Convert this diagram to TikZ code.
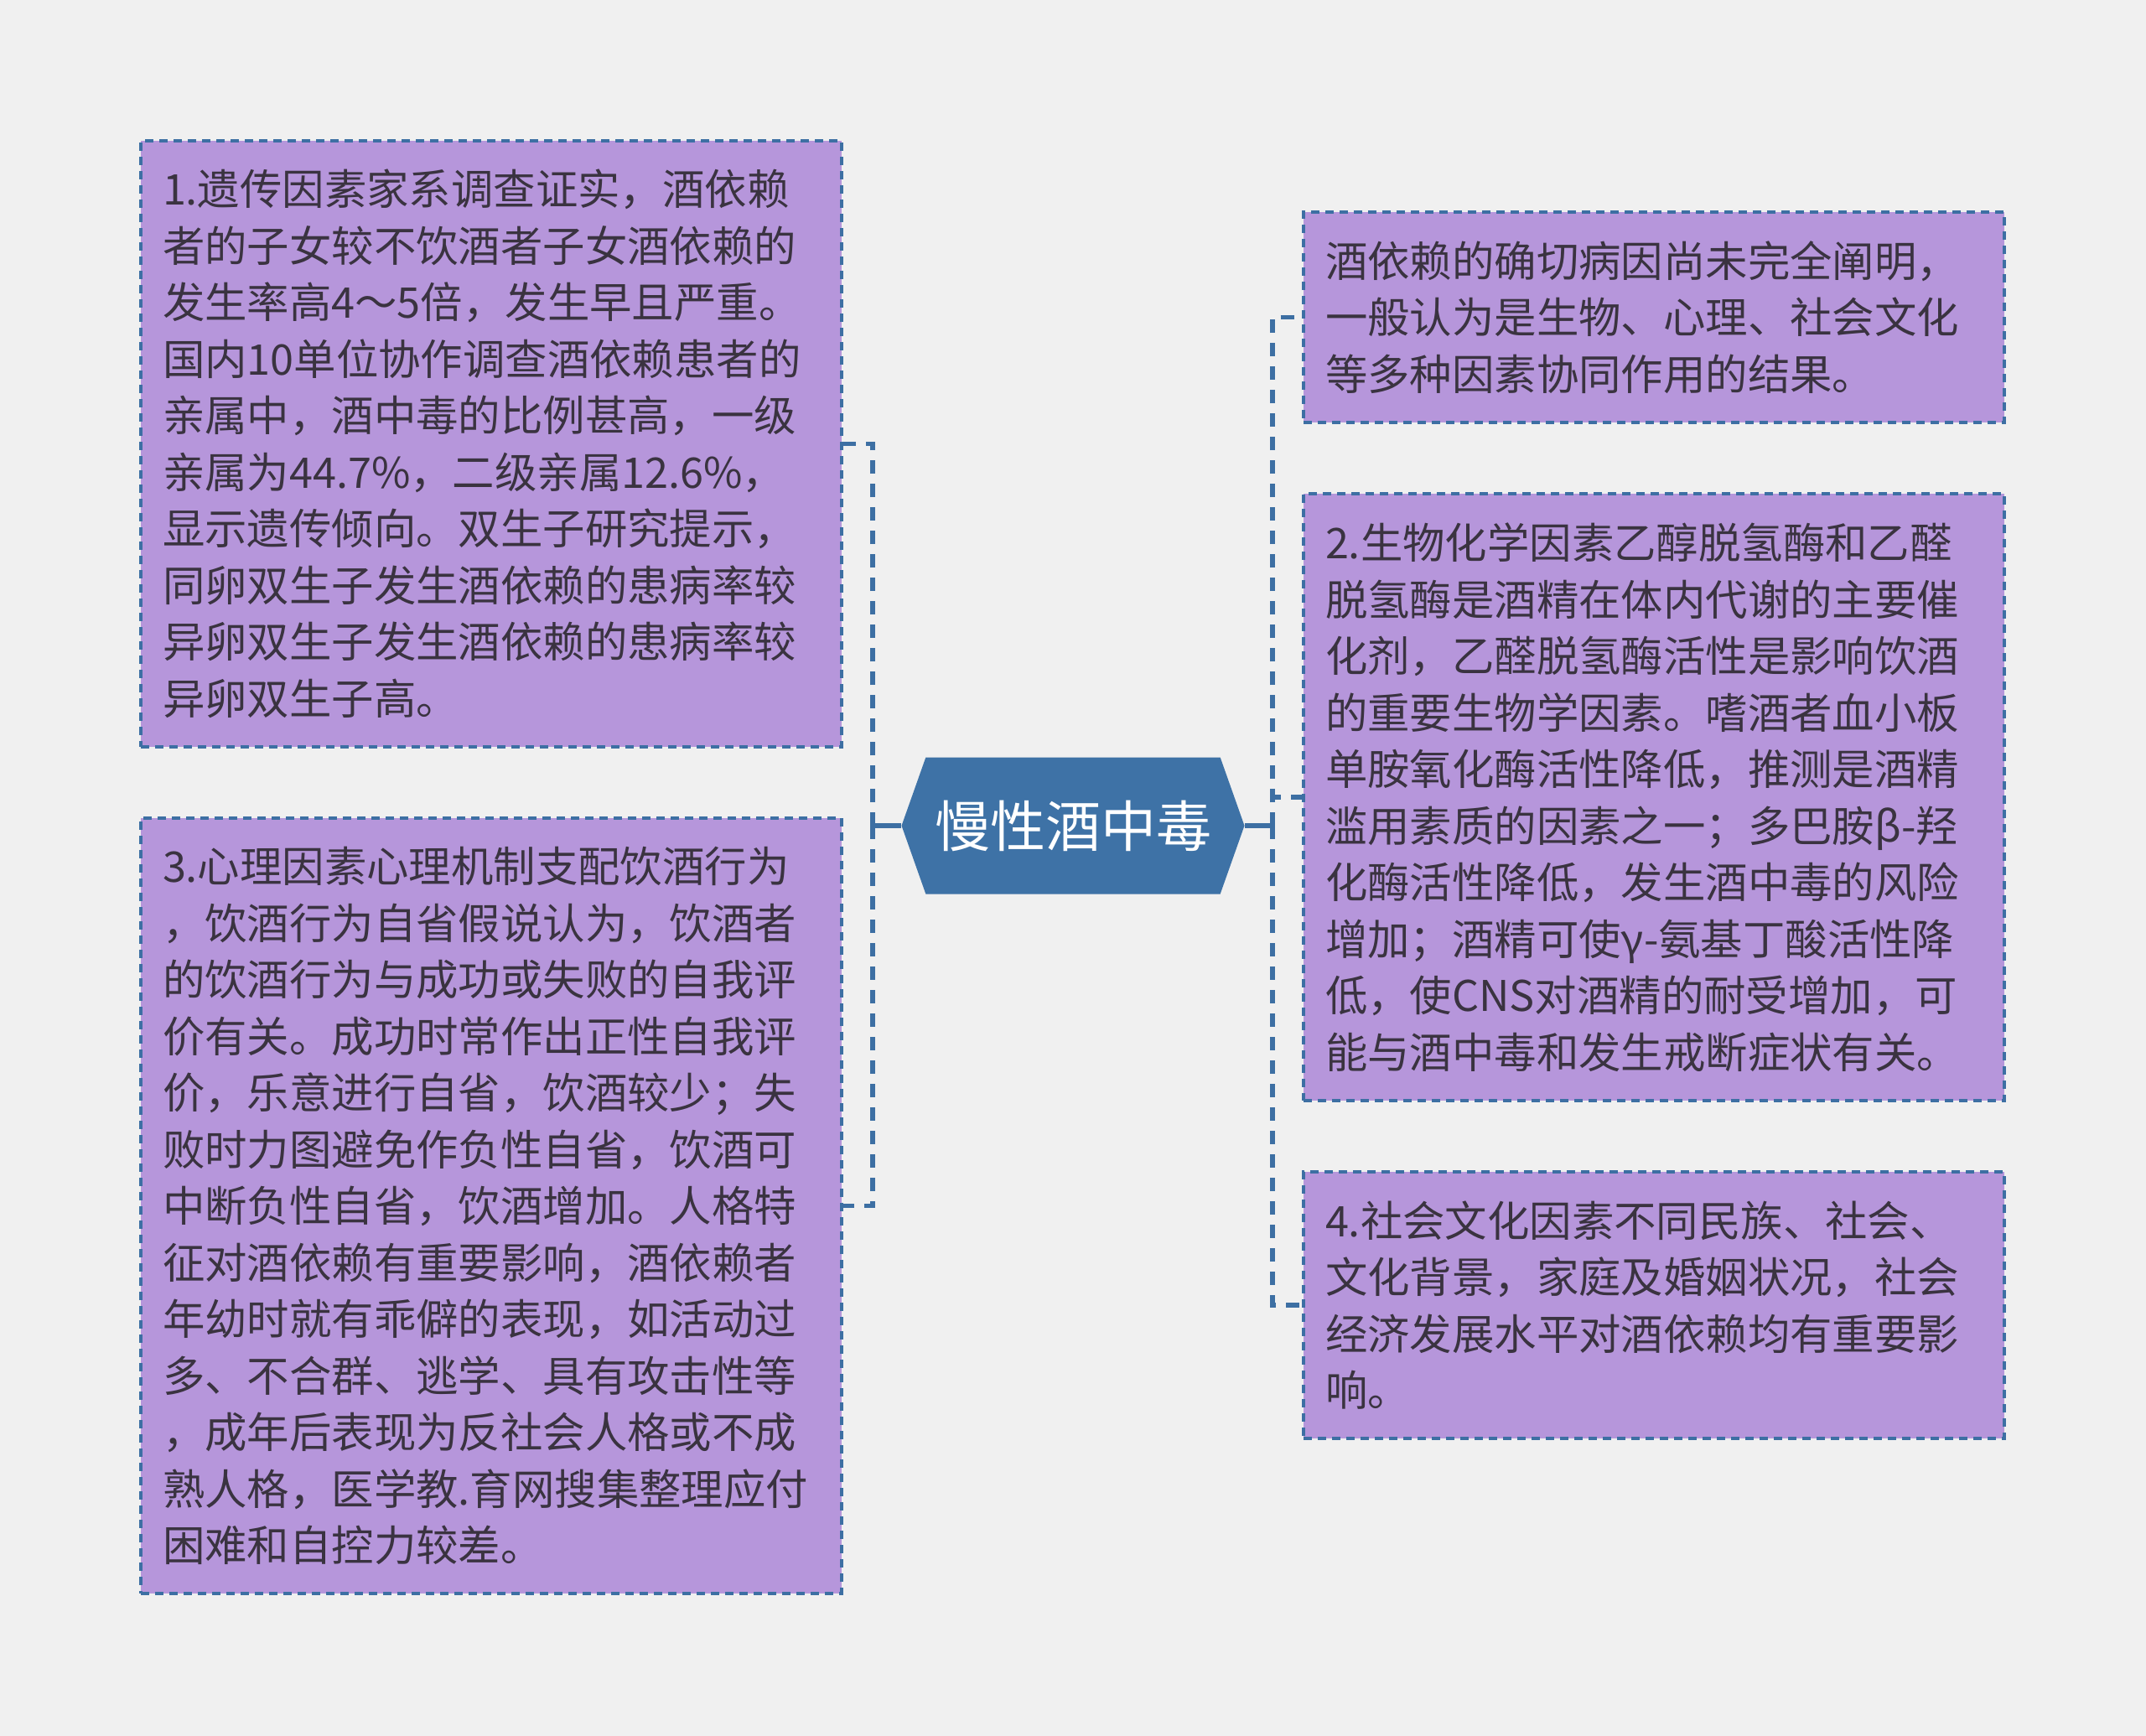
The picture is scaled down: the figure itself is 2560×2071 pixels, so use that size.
\documentclass[tikz,border=0pt]{standalone}
\usepackage{fontspec}
\usepackage{tikz}
\usetikzlibrary{shapes.symbols}
\newfontfamily\cjk{Noto Sans CJK SC}
\definecolor{bgcol}{HTML}{F0F0F0}
\definecolor{rootcol}{HTML}{3E72A6}
\definecolor{linkcol}{HTML}{3D6FA3}
\definecolor{leafcol}{HTML}{B696DB}
\definecolor{inkcol}{HTML}{3A3340}

\tikzset{
  leaf/.style={draw=linkcol, fill=leafcol, line width=1.8pt, dash pattern=on 5pt off 3.5pt,
    text=inkcol, font=\cjk\fontsize{25.2}{33.75}\selectfont,
    text width=392pt, align=left, inner xsep=13pt, minimum width=418pt},
  link/.style={draw=linkcol, line width=2.8pt, dash pattern=on 8pt off 6pt},
  stem/.style={draw=linkcol, line width=2.8pt},
}

\begin{document}
\begin{tikzpicture}[x=0.5pt, y=-0.5pt]
    \fill[bgcol] (0,0) rectangle (2560,2071);

    \node[signal, signal to=west and east, signal pointer angle=141, fill=rootcol, text=white,
          font=\cjk\fontsize{33}{40}\selectfont, minimum width=204.5pt, minimum height=81.5pt]
          (root) at (1280,985) {慢性酒中毒};

    \node[leaf, minimum height=361.5pt] (gene) at (586,529.5) {1.遗传因素家系调查证实，酒依赖\\者的子女较不饮酒者子女酒依赖的\\发生率高4～5倍，发生早且严重。\\国内10单位协作调查酒依赖患者的\\亲属中，酒中毒的比例甚高，一级\\亲属为44.7\%，二级亲属12.6\%，\\显示遗传倾向。双生子研究提示，\\同卵双生子发生酒依赖的患病率较\\异卵双生子发生酒依赖的患病率较\\异卵双生子高。};
    \node[leaf, minimum height=462.5pt] (psych) at (586,1438.5) {3.心理因素心理机制支配饮酒行为\\，饮酒行为自省假说认为，饮酒者\\的饮酒行为与成功或失败的自我评\\价有关。成功时常作出正性自我评\\价，乐意进行自省，饮酒较少；失\\败时力图避免作负性自省，饮酒可\\中断负性自省，饮酒增加。人格特\\征对酒依赖有重要影响，酒依赖者\\年幼时就有乖僻的表现，如活动过\\多、不合群、逃学、具有攻击性等\\，成年后表现为反社会人格或不成\\熟人格，医学教.育网搜集整理应付\\困难和自控力较差。};

    \node[leaf, minimum height=125.5pt] (cause) at (1973,378.5) {酒依赖的确切病因尚未完全阐明，\\一般认为是生物、心理、社会文化\\等多种因素协同作用的结果。};
    \node[leaf, minimum height=362pt] (bio) at (1973,951) {2.生物化学因素乙醇脱氢酶和乙醛\\脱氢酶是酒精在体内代谢的主要催\\化剂，乙醛脱氢酶活性是影响饮酒\\的重要生物学因素。嗜酒者血小板\\单胺氧化酶活性降低，推测是酒精\\滥用素质的因素之一；多巴胺β-羟\\化酶活性降低，发生酒中毒的风险\\增加；酒精可使γ-氨基丁酸活性降\\低，使CNS对酒精的耐受增加，可\\能与酒中毒和发生戒断症状有关。};
    \node[leaf, minimum height=159pt] (social) at (1973,1557) {4.社会文化因素不同民族、社会、\\文化背景，家庭及婚姻状况，社会\\经济发展水平对酒依赖均有重要影\\响。};

    \coordinate (ljoint) at (1041,985);
    \coordinate (rjoint) at (1518,985);

    \draw[stem] (root.west) -- (ljoint);
    \draw[stem] (root.east) -- (rjoint);
    \draw[link] (ljoint) |- (gene.east);
    \draw[link] (ljoint) |- (psych.east);
    \draw[link] (rjoint) |- (cause.west);
    \draw[link] (rjoint) |- (bio.west);
    \draw[link] (rjoint) |- (social.west);
\end{tikzpicture}
\end{document}
